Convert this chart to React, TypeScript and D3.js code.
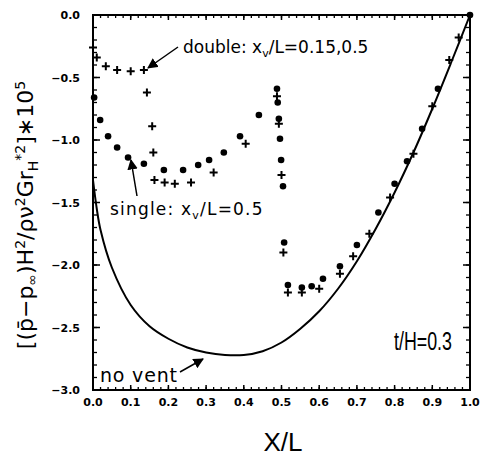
import React from "react";
import * as d3 from "d3";

const doubleX = [0.0, 0.01, 0.034, 0.064, 0.10, 0.135, 0.143, 0.157, 0.16, 0.163, 0.19, 0.217, 0.26, 0.32, 0.405, 0.488, 0.493, 0.50, 0.505, 0.517, 0.554, 0.60, 0.655, 0.69, 0.733, 0.788, 0.85, 0.90, 0.945, 0.97];
const doubleY = [-0.26, -0.34, -0.41, -0.44, -0.45, -0.44, -0.62, -0.89, -1.10, -1.32, -1.34, -1.35, -1.34, -1.26, -1.03, -0.65, -0.87, -1.28, -1.90, -2.22, -2.22, -2.19, -2.07, -1.93, -1.75, -1.46, -1.11, -0.73, -0.36, -0.18];

const singleX = [0.003, 0.019, 0.04, 0.064, 0.093, 0.135, 0.188, 0.239, 0.279, 0.308, 0.347, 0.39, 0.44, 0.488, 0.49, 0.493, 0.496, 0.499, 0.504, 0.507, 0.517, 0.554, 0.58, 0.61, 0.655, 0.70, 0.757, 0.80, 0.833, 0.873, 0.915, 1.0];
const singleY = [-0.66, -0.84, -0.97, -1.06, -1.14, -1.19, -1.24, -1.24, -1.20, -1.16, -1.10, -0.97, -0.80, -0.59, -0.70, -0.83, -0.99, -1.16, -1.37, -1.82, -2.16, -2.18, -2.17, -2.11, -2.01, -1.84, -1.58, -1.35, -1.17, -0.91, -0.59, 0.0];

const ventX = [0.0, 0.01, 0.02, 0.05, 0.1, 0.15, 0.2, 0.25, 0.3, 0.35, 0.4, 0.45, 0.5, 0.55, 0.6, 0.65, 0.7, 0.75, 0.8, 0.85, 0.9, 0.95, 1.0];
const ventY = [-1.32, -1.55, -1.72, -2.02, -2.32, -2.49, -2.59, -2.66, -2.70, -2.72, -2.72, -2.69, -2.62, -2.51, -2.37, -2.19, -1.97, -1.71, -1.42, -1.10, -0.75, -0.38, 0.0];

const xTicks = [0, 0.1, 0.2, 0.3, 0.4, 0.5, 0.6, 0.7, 0.8, 0.9, 1.0];
const yTicks = [0, -0.5, -1.0, -1.5, -2.0, -2.5, -3.0];

export default function App() {
  const W = 481, H = 461;
  const x = d3.scaleLinear().domain([0, 1]).range([93, 470]);
  const y = d3.scaleLinear().domain([-3, 0]).range([390, 15]);
  const line = d3.line<number>().x((_, i) => x(ventX[i])).y((d) => y(d)).curve(d3.curveCatmullRom);
  const font = "'DejaVu Sans', sans-serif";
  const font2 = "'Liberation Sans', Arial, sans-serif";
  const minorX = d3.range(0, 1.0001, 0.02);
  const minorY = d3.range(-3, 0.0001, 0.1);
  const tickColor = "#000";
  return (
    <svg width={W} height={H} style={{ position: "absolute", left: 0, top: 0 }}>
      <rect width={W} height={H} fill="#fff" />
      <defs>
        <marker id="ah" viewBox="0 0 10 10" refX="9" refY="5" markerWidth="7" markerHeight="7" orient="auto">
          <path d="M0,0 L10,5 L0,10 z" fill="#000" />
        </marker>
      </defs>
      <rect x={x(0)} y={y(0)} width={x(1) - x(0)} height={y(-3) - y(0)} fill="none" stroke="#000" strokeWidth={2} />
      {minorX.map((t, i) => (
        <g key={"mx" + i}>
          <line x1={x(t)} x2={x(t)} y1={y(0)} y2={y(0) + 3} stroke={tickColor} strokeWidth={1.3} />
          <line x1={x(t)} x2={x(t)} y1={y(-3)} y2={y(-3) - 3} stroke={tickColor} strokeWidth={1.3} />
        </g>
      ))}
      {xTicks.map((t, i) => (
        <g key={"xt" + i}>
          <line x1={x(t)} x2={x(t)} y1={y(0)} y2={y(0) + 5} stroke={tickColor} strokeWidth={1.5} />
          <line x1={x(t)} x2={x(t)} y1={y(-3)} y2={y(-3) - 5} stroke={tickColor} strokeWidth={1.5} />
          <text x={x(t)} y={406} textAnchor="middle" fontFamily={font} fontSize={11} fontWeight="bold">{t.toFixed(1)}</text>
        </g>
      ))}
      {minorY.map((t, i) => (
        <g key={"my" + i}>
          <line x1={x(0)} x2={x(0) + 4} y1={y(t)} y2={y(t)} stroke={tickColor} strokeWidth={1.3} />
          <line x1={x(1)} x2={x(1) - 4} y1={y(t)} y2={y(t)} stroke={tickColor} strokeWidth={1.3} />
        </g>
      ))}
      {yTicks.map((t, i) => (
        <g key={"yt" + i}>
          <line x1={x(0)} x2={x(0) + 7} y1={y(t)} y2={y(t)} stroke={tickColor} strokeWidth={1.5} />
          <line x1={x(1)} x2={x(1) - 7} y1={y(t)} y2={y(t)} stroke={tickColor} strokeWidth={1.5} />
          <text x={80} y={y(t) + 4} textAnchor="end" fontFamily={font} fontSize={11} fontWeight="bold">{t === 0 ? "0.0" : "\u2212" + Math.abs(t).toFixed(1)}</text>
        </g>
      ))}
      <path d={line(ventY) || ""} fill="none" stroke="#000" strokeWidth={2} />
      {singleX.map((v, i) => (
        <circle key={"s" + i} cx={x(v)} cy={y(singleY[i])} r={3.3} fill="#000" />
      ))}
      {doubleX.map((v, i) => (
        <path key={"d" + i} d={`M${x(v) - 4},${y(doubleY[i])}h8M${x(v)},${y(doubleY[i]) - 4}v8`} stroke="#000" strokeWidth={2} />
      ))}
      <text x={183} y={53} fontFamily={font} fontSize={17}>
        double: x<tspan dy={4} fontSize={11}>v</tspan><tspan dy={-4}>/L=0.15,0.5</tspan>
      </text>
      <line x1={178} y1={47} x2={148} y2={68} stroke="#000" strokeWidth={1.5} markerEnd="url(#ah)" />
      <text x={110} y={215} fontFamily={font} fontSize={17} letterSpacing={1.2}>
        single: x<tspan dy={4} fontSize={11}>v</tspan><tspan dy={-4}>/L=0.5</tspan>
      </text>
      <line x1={137} y1={196} x2={131} y2={160} stroke="#000" strokeWidth={1.5} markerEnd="url(#ah)" />
      <text x={100} y={382} fontFamily={font} fontSize={19} letterSpacing={0.8}>no vent</text>
      <line x1={180} y1={372} x2={203} y2={359} stroke="#000" strokeWidth={1.5} markerEnd="url(#ah)" />
      <text x={394} y={350} fontFamily={font2} fontSize={25} textLength={58} lengthAdjust="spacingAndGlyphs">t/H=0.3</text>
      <text x={283} y={451} textAnchor="middle" fontFamily={font2} fontSize={26}>X/L</text>
      <text transform="translate(33,215) rotate(-90)" textAnchor="middle" fontFamily={font} fontSize={22}>
        [(p̄−p<tspan dy={4} fontSize={14}>∞</tspan><tspan dy={-4}>)H</tspan><tspan dy={-8} fontSize={14}>2</tspan><tspan dy={8}>/ρν</tspan><tspan dy={-8} fontSize={14}>2</tspan><tspan dy={8}>Gr</tspan><tspan dy={5} fontSize={14}>H</tspan><tspan dy={-13} fontSize={14}>*2</tspan><tspan dy={8}>]∗10</tspan><tspan dy={-8} fontSize={14}>5</tspan>
      </text>
    </svg>
  );
}
